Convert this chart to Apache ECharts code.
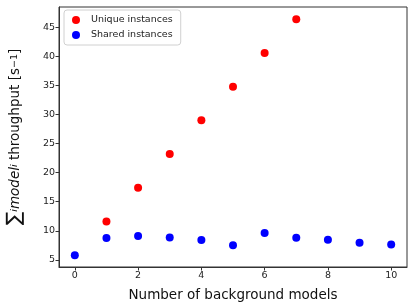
<!DOCTYPE html>
<html><head><meta charset="utf-8">
<script src="https://cdn.jsdelivr.net/npm/echarts@6/dist/echarts.min.js"></script>
<style>html,body{margin:0;padding:0;background:#fff}#c{width:415px;height:308px}</style>
</head><body><div id="c"></div>
<script>
const uniqueX = [1, 2, 3, 4, 5, 6, 7];
const uniqueY = [11.6, 17.4, 23.2, 29.0, 34.8, 40.6, 46.4];
const sharedX = [0, 1, 2, 3, 4, 5, 6, 7, 8, 9, 10];
const sharedY = [5.8, 8.75, 9.1, 8.85, 8.4, 7.5, 9.6, 8.8, 8.45, 7.95, 7.65];
const xTicks = [0, 2, 4, 6, 8, 10];
const yTicks = [5, 10, 15, 20, 25, 30, 35, 40, 45];
const seriesNames = ['Unique instances', 'Shared instances'];

const FONT = 'DejaVu Sans';
const chart = echarts.init(document.getElementById('c'), null, {renderer: 'canvas'});
const axisCommon = {
  axisLine: {show: true, onZero: false, lineStyle: {color: '#333', width: 1}},
  axisTick: {show: true, inside: false, length: 3.5, lineStyle: {color: '#333'}},
  splitLine: {show: false},
  axisLabel: {color: '#222', fontFamily: FONT, fontSize: 9.5, margin: 4}
};
chart.setOption({
  animation: false,
  grid: {left: 59, right: 8, top: 7, bottom: 41, containLabel: false, outerBoundsMode: 'none',
         show: true, borderColor: '#333', borderWidth: 1},
  legend: {
    orient: 'vertical', left: 64, top: 10,
    data: seriesNames,
    icon: 'circle', itemWidth: 8, itemHeight: 8, itemGap: 5,
    textStyle: {fontFamily: FONT, fontSize: 9.5, color: '#222', padding: [0, 0, 0, 6]},
    borderColor: '#d0d0d0', borderWidth: 1, borderRadius: 3,
    padding: [5, 8, 5, 8], backgroundColor: '#fff'
  },
  xAxis: Object.assign({}, axisCommon, {
    type: 'value', min: -0.5, max: 10.5,
    axisTick: Object.assign({}, axisCommon.axisTick, {customValues: xTicks}),
    axisLabel: Object.assign({}, axisCommon.axisLabel, {customValues: xTicks}),
    name: 'Number of background models', nameLocation: 'middle', nameGap: 21,
    nameTextStyle: {fontFamily: FONT, fontSize: 13.5, color: '#111'}
  }),
  yAxis: Object.assign({}, axisCommon, {
    type: 'value', min: 3.77, max: 48.5,
    axisTick: Object.assign({}, axisCommon.axisTick, {customValues: yTicks}),
    axisLabel: Object.assign({}, axisCommon.axisLabel, {customValues: yTicks}),
    name: '{sum|∑}{sub|i}{it|model}{sub|i} throughput [s{sup|−1}]',
    nameLocation: 'middle', nameRotate: 90, nameGap: 33,
    nameTextStyle: {
      fontFamily: FONT, fontSize: 13.5, color: '#111',
      rich: {
        sum: {fontFamily: FONT, fontSize: 20, color: '#111', height: 22, verticalAlign: 'middle'},
        sub: {fontFamily: FONT, fontSize: 9.5, fontStyle: 'italic', color: '#111', verticalAlign: 'bottom', height: 22},
        it: {fontFamily: FONT, fontSize: 13.5, fontStyle: 'italic', color: '#111'},
        sup: {fontFamily: FONT, fontSize: 9.5, color: '#111', verticalAlign: 'top', height: 22}
      }
    }
  }),
  series: [
    {name: seriesNames[0], type: 'scatter', symbolSize: 8, itemStyle: {color: '#ff0000', opacity: 1},
     data: uniqueX.map((x, i) => [x, uniqueY[i]])},
    {name: seriesNames[1], type: 'scatter', symbolSize: 8, itemStyle: {color: '#0000ff', opacity: 1},
     data: sharedX.map((x, i) => [x, sharedY[i]])}
  ]
});
</script></body></html>
